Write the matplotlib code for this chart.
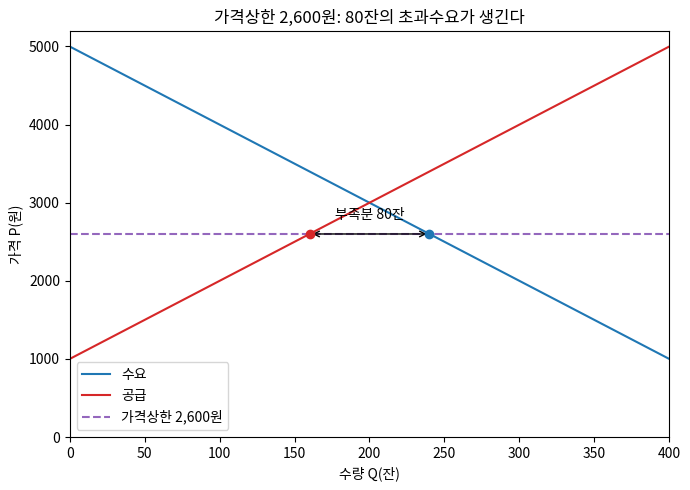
import numpy as np
import matplotlib.pyplot as plt

plt.rcParams['font.family'] = ['Noto Sans CJK KR', 'DejaVu Sans']
plt.rcParams['axes.unicode_minus'] = False

# 수요/공급 (직선, 양 끝점)
q_ends = [0, 400]
demand_p = [5000, 1000]
supply_p = [1000, 5000]

ceiling = 2600
q_supplied = 160
q_demanded = 240

fig, ax = plt.subplots(figsize=(6.9, 4.9), dpi=100)

ax.plot(q_ends, demand_p, color='tab:blue', label='수요')
ax.plot(q_ends, supply_p, color='tab:red', label='공급')
ax.axhline(ceiling, color='tab:purple', linestyle='--', label='가격상한 2,600원')

ax.scatter([q_supplied], [ceiling], color='tab:red', zorder=5)
ax.scatter([q_demanded], [ceiling], color='tab:blue', zorder=5)

ax.annotate('', xy=(q_supplied, ceiling), xytext=(q_demanded, ceiling),
            arrowprops=dict(arrowstyle='<->', color='black'))
ax.text((q_supplied + q_demanded) / 2, ceiling + 150,
        f'부족분 {q_demanded - q_supplied}잔', ha='center', va='bottom')

ax.set_xlim(0, 400)
ax.set_ylim(0, 5200)
ax.set_xlabel('수량 Q(잔)')
ax.set_ylabel('가격 P(원)')
ax.set_title('가격상한 2,600원: 80잔의 초과수요가 생긴다')
ax.legend(loc='lower left')

fig.subplots_adjust(left=0.101, right=0.970, top=0.937, bottom=0.108)
fig.savefig('out.png')
